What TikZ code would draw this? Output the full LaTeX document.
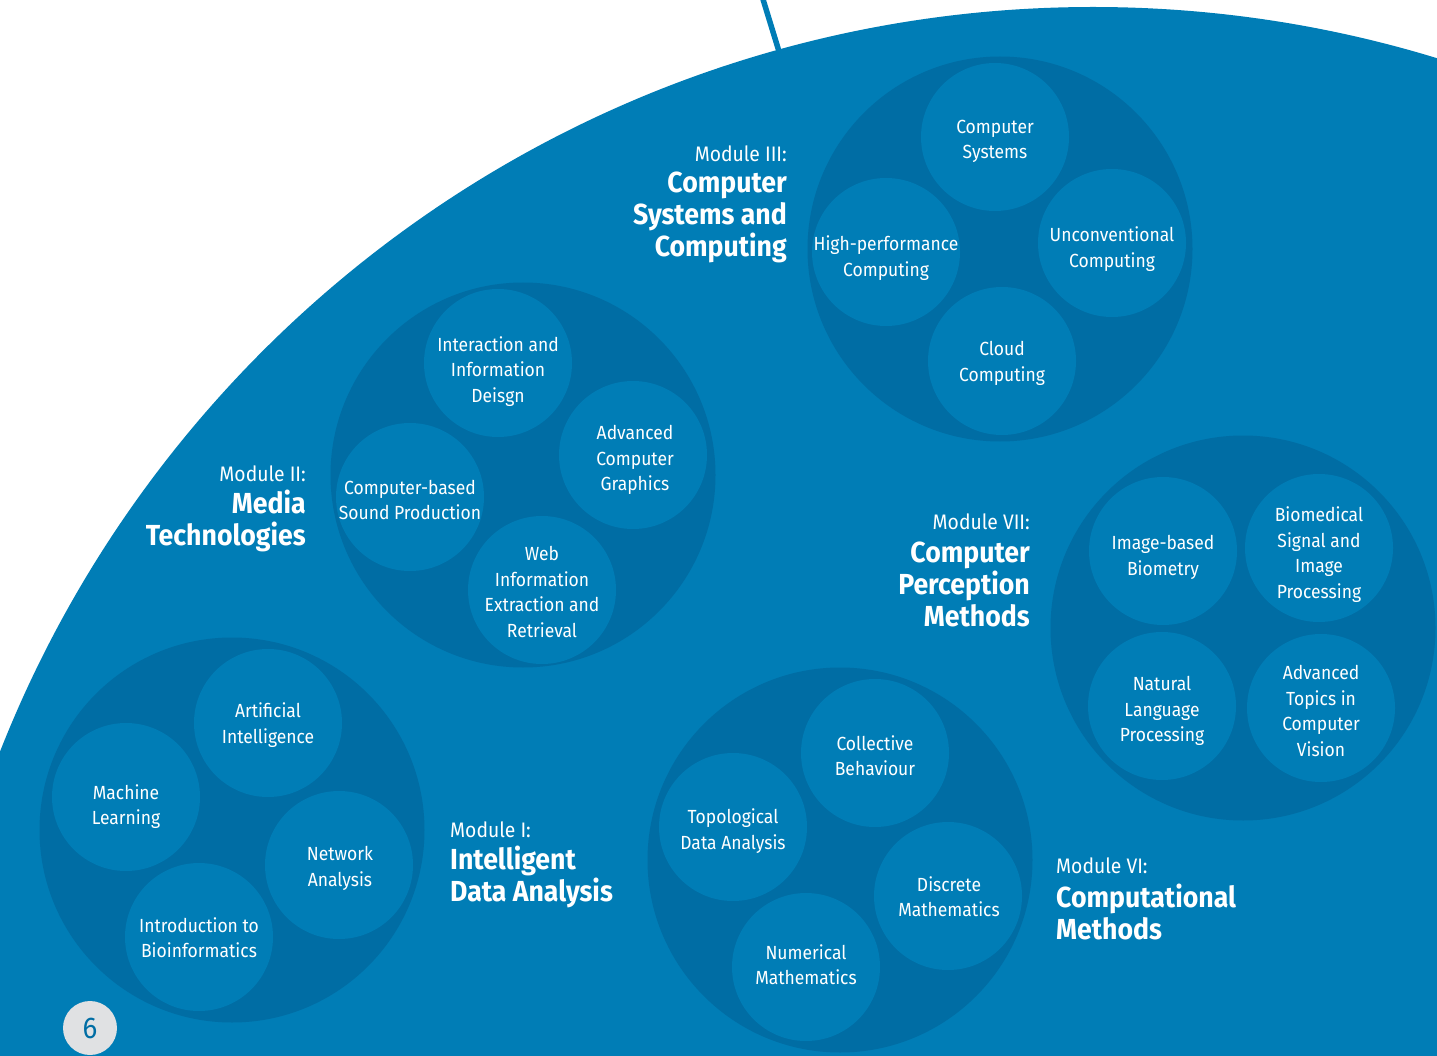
\documentclass[tikz,border=0pt]{standalone}
\usepackage{fontspec}
\setmainfont{Fira Sans}[FakeStretch=0.92]
\usetikzlibrary{positioning}

\definecolor{uniblue}{RGB}{0,125,182}
\definecolor{groupblue}{RGB}{0,109,164}
\definecolor{badgegray}{RGB}{224,225,227}

\begin{document}
\begin{tikzpicture}[x=1pt, y=-1pt,
  every node/.style = {align=center, text=white, inner sep=0pt},
  group/.style   = {shape=circle, fill=groupblue, minimum size=385pt},
  topic/.style   = {shape=circle, fill=uniblue, minimum size=148pt},
  course/.style  = {font=\fontsize{19}{25.5}\selectfont},
  modno/.style   = {font=\fontsize{21}{24}\selectfont},
  modname/.style = {font=\bfseries\fontsize{29}{32}\selectfont}
    ]
  \useasboundingbox (0,0) rectangle (1437,1056);
  \clip (0,0) rectangle (1437,1056);

  % the big disc and its spoke
  \node[shape=circle, fill=uniblue, minimum size=2348pt] (field) at (1093,1181) {};
  \coordinate (spoke top) at (762,-4);
  \coordinate (spoke foot) at (781,58);
  \draw[uniblue, line width=5.5pt] (spoke top) -- (spoke foot);

  % Module III
  \node[group] (g3) at (1000,249) {};
  \node[topic] (cs)  at (995,137)  {};
  \node[topic] (hpc) at (886,252)  {};
  \node[topic] (uc)  at (1112,243) {};
  \node[topic] (cc)  at (1002,361) {};
  \node[course] (cs text)  at (995,141.5)  {Computer\\Systems};
  \node[course] (hpc text) at (886,258)    {High-performance\\Computing};
  \node[course] (uc text)  at (1112,249)   {Unconventional\\Computing};
  \node[course] (cc text)  at (1002,363.5) {Cloud\\Computing};
  \node[modno, anchor=east] (m3) at (787,154) {Module III:};
  \node[modname, anchor=east, align=right] (m3t) at (787,217) {Computer\\Systems and\\Computing};

  % Module II
  \node[group] (g2) at (523,475) {};
  \node[topic] (iid) at (498,363) {};
  \node[topic] (acg) at (633,455) {};
  \node[topic] (csp) at (410,497) {};
  \node[topic] (wie) at (542,590) {};
  \node[course] (iid text) at (498,371.5) {Interaction and\\Information\\Deisgn};
  \node[course] (acg text) at (635,460)   {Advanced\\Computer\\Graphics};
  \node[course] (csp text) at (410,500)   {Computer-based\\Sound Production};
  \node[course] (wie text) at (542,592)   {Web\\Information\\Extraction and\\Retrieval};
  \node[modno, anchor=east] (m2) at (306,474) {Module II:};
  \node[modname, anchor=east, align=right] (m2t) at (306,521) {Media\\Technologies};

  % Module VII
  \node[group] (g7) at (1243,628) {};
  \node[topic] (ibb) at (1163,551) {};
  \node[topic] (bsp) at (1319,548) {};
  \node[topic] (nlp) at (1162,706) {};
  \node[topic] (atc) at (1321,708) {};
  \node[course] (ibb text) at (1163,557.5) {Image-based\\Biometry};
  \node[course] (bsp text) at (1319,554.5) {Biomedical\\Signal and\\Image\\Processing};
  \node[course] (nlp text) at (1162,711)   {Natural\\Language\\Processing};
  \node[course] (atc text) at (1321,711)   {Advanced\\Topics in\\Computer\\Vision};
  \node[modno, anchor=east] (m7) at (1030,522) {Module VII:};
  \node[modname, anchor=east, align=right] (m7t) at (1030,584) {Computer\\Perception\\Methods};

  % Module I
  \node[group] (g1) at (232,830) {};
  \node[topic] (ai)  at (268,723) {};
  \node[topic] (ml)  at (126,797) {};
  \node[topic] (na)  at (339,865) {};
  \node[topic] (bio) at (199,937) {};
  \node[course] (ai text)  at (268,725)   {Artificial\\Intelligence};
  \node[course] (ml text)  at (126,806.5) {Machine\\Learning};
  \node[course] (na text)  at (340,868.5) {Network\\Analysis};
  \node[course] (bio text) at (199,937.5) {Introduction to\\Bioinformatics};
  \node[modno, anchor=west] (m1) at (450,830) {Module I:};
  \node[modname, anchor=west, align=left] (m1t) at (450,877) {Intelligent\\Data Analysis};

  % Module VI
  \node[group] (g6) at (840,860) {};
  \node[topic] (cb)  at (875,753) {};
  \node[topic] (tda) at (733,827) {};
  \node[topic] (dm)  at (948,896) {};
  \node[topic] (nm)  at (806,967) {};
  \node[course] (cb text)  at (875,755.5) {Collective\\Behaviour};
  \node[course] (tda text) at (733,831)   {Topological\\Data Analysis};
  \node[course] (dm text)  at (949,896.5) {Discrete\\Mathematics};
  \node[course] (nm text)  at (806,964.5) {Numerical\\Mathematics};
  \node[modno, anchor=west] (m6) at (1056,866) {Module VI:};
  \node[modname, anchor=west, align=left] (m6t) at (1056,912) {Computational\\Methods};

  % page number
  \node[shape=circle, fill=badgegray, minimum size=54pt, text=groupblue,
        font=\fontsize{30}{30}\selectfont] (page) at (90,1028) {6};
\end{tikzpicture}
\end{document}
